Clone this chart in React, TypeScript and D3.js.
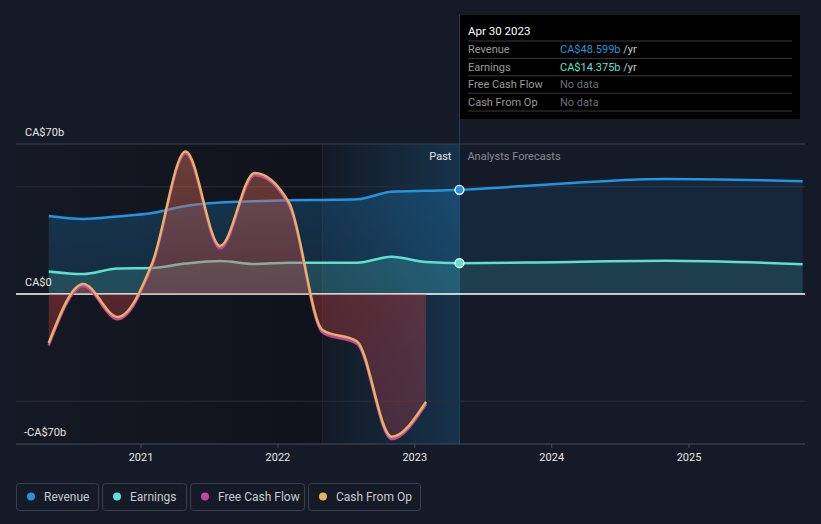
import React, { useEffect } from "react";
import * as d3 from "d3";

const W = 821;
const H = 524;

const pastDates = [
  "2020-04-30", "2020-07-31", "2020-10-31", "2021-01-31", "2021-04-30", "2021-07-31",
  "2021-10-31", "2022-01-31", "2022-04-30", "2022-07-31", "2022-10-31", "2023-01-31", "2023-04-30",
];
const revenuePast = [36.4, 35.0, 36.2, 37.8, 41.1, 42.7, 43.3, 43.7, 43.9, 44.2, 47.7, 48.2, 48.6];
const earningsPast = [10.5, 9.3, 11.9, 12.1, 14.2, 15.4, 14.0, 14.6, 14.6, 14.6, 17.4, 14.9, 14.4];

const cashDates = pastDates.slice(0, 12);
const cashFromOp = [-22.9, 4.7, -10.7, 14.5, 66.5, 22.4, 56.5, 42.5, -16.8, -22.2, -66.6, -50.3];
const freeCashFlow = [-24.0, 3.6, -11.8, 13.4, 65.4, 21.3, 55.4, 41.4, -17.9, -23.3, -67.7, -51.4];

const forecastDates = ["2023-04-30", "2023-10-31", "2024-10-31", "2025-10-31"];
const revenueForecast = [48.6, 50.5, 53.7, 52.6];
const earningsForecast = [14.4, 14.7, 15.5, 13.9];

const yTicks = [70, 0, -70];
const yTickLabels = ["CA$70b", "CA$0", "-CA$70b"];
const gridValues = [50, -50];
const xTickYears = [2021, 2022, 2023, 2024, 2025];

const legendItems = [
  { label: "Revenue", color: "#2394df" },
  { label: "Earnings", color: "#5fe0cf" },
  { label: "Free Cash Flow", color: "#c4479a" },
  { label: "Cash From Op", color: "#e6b065" },
];

const tooltipRows = [
  { label: "Revenue", value: "CA$48.599b", unit: " /yr", color: "#2394df" },
  { label: "Earnings", value: "CA$14.375b", unit: " /yr", color: "#5fe0cf" },
  { label: "Free Cash Flow", value: "No data", unit: "", color: "#6b6f76" },
  { label: "Cash From Op", value: "No data", unit: "", color: "#6b6f76" },
];

const parse = d3.utcParse("%Y-%m-%d");

export default function App() {
  useEffect(() => {
    document.body.style.margin = "0";
    document.body.style.background = "#151b26";
  }, []);

  const x = d3
    .scaleUtc()
    .domain([new Date(Date.UTC(2021, 0, 1)), new Date(Date.UTC(2025, 0, 1))])
    .range([141, 689]);
  const y = d3.scaleLinear().domain([-70, 70]).range([444, 144]);

  const left = 16;
  const right = 805;
  const nowX = x(parse("2023-04-30")!);
  const hlX = x(parse("2022-04-30")!);

  type P = { d: Date; v: number };
  const mk = (dates: string[], vals: number[]): P[] => dates.map((s, i) => ({ d: parse(s)!, v: vals[i] }));

  const revP = mk(pastDates, revenuePast);
  const revF = mk(forecastDates, revenueForecast);
  const earnP = mk(pastDates, earningsPast);
  const earnF = mk(forecastDates, earningsForecast);
  const revAll = revP.concat(revF.slice(1));
  const earnAll = earnP.concat(earnF.slice(1));
  const cfo = mk(cashDates, cashFromOp);
  const fcf = mk(cashDates, freeCashFlow);

  const line = d3
    .line<P>()
    .x((p) => x(p.d))
    .y((p) => y(p.v))
    .curve(d3.curveMonotoneX);
  const area = d3
    .area<P>()
    .x((p) => x(p.d))
    .y0(y(0))
    .y1((p) => y(p.v))
    .curve(d3.curveMonotoneX);

  const font = "Roboto, 'Open Sans', sans-serif";

  const legendX = [16, 102, 190, 308];
  const legendW = [82, 84, 114, 112];

  return (
    <svg
      width={W}
      height={H}
      style={{ position: "absolute", left: 0, top: 0, display: "block", background: "#151b26" }}
      fontFamily={font}
    >
      <defs>
        <linearGradient id="pastShade" x1="0" x2="1" y1="0" y2="0">
          <stop offset="0" stopColor="#000" stopOpacity={0.08} />
          <stop offset="1" stopColor="#000" stopOpacity={0.3} />
        </linearGradient>
        <linearGradient id="hl" x1="0" x2="1" y1="0" y2="0">
          <stop offset="0" stopColor="#2394df" stopOpacity={0.02} />
          <stop offset="1" stopColor="#2394df" stopOpacity={0.22} />
        </linearGradient>
        <linearGradient id="revFill" gradientUnits="userSpaceOnUse" x1="0" x2="0" y1={144} y2={294}>
          <stop offset="0" stopColor="#2394df" stopOpacity={0.28} />
          <stop offset="1" stopColor="#2394df" stopOpacity={0.16} />
        </linearGradient>
        <linearGradient id="cashFill" gradientUnits="userSpaceOnUse" x1="0" x2="0" y1={144} y2={444}>
          <stop offset="0" stopColor="rgb(228,125,95)" stopOpacity={0.42} />
          <stop offset="0.5" stopColor="rgb(205,65,65)" stopOpacity={0.36} />
          <stop offset="1" stopColor="rgb(190,60,85)" stopOpacity={0.3} />
        </linearGradient>
      </defs>

      {/* background regions */}
      <rect x={left} y={144} width={hlX - left} height={300} fill="url(#pastShade)" />
      <rect x={hlX} y={144} width={nowX - hlX} height={300} fill="#11161e" opacity={0.6} />
      <rect x={hlX} y={144} width={nowX - hlX} height={300} fill="url(#hl)" />
      <line x1={hlX} x2={hlX} y1={144} y2={444} stroke="#ffffff" strokeOpacity={0.06} />
      <line x1={nowX} x2={nowX} y1={15} y2={444} stroke="#2394df" strokeOpacity={0.3} />

      {/* grid */}
      <line x1={left} x2={right} y1={y(70)} y2={y(70)} stroke="#3c424c" />
      {gridValues.map((g) => (
        <line key={g} x1={left} x2={right} y1={y(g)} y2={y(g)} stroke="#2a303a" />
      ))}

      {/* revenue */}
      <path d={area(revP) || ""} fill="url(#revFill)" />
      <path d={area(revF) || ""} fill="#2394df" fillOpacity={0.1} />
      <path d={line(revAll) || ""} fill="none" stroke="#2394df" strokeWidth={2.5} />

      {/* earnings */}
      <path d={area(earnP) || ""} fill="#5fe0cf" fillOpacity={0.18} />
      <path d={area(earnF) || ""} fill="#5fe0cf" fillOpacity={0.13} />
      <path d={line(earnAll) || ""} fill="none" stroke="#5fe0cf" strokeWidth={2.5} />

      {/* zero line */}
      <line x1={left} x2={right} y1={y(0)} y2={y(0)} stroke="#ffffff" strokeWidth={1.5} />

      {/* cash flow */}
      <path d={area(fcf) || ""} fill="url(#cashFill)" />
      <path d={line(fcf) || ""} fill="none" stroke="#c4479a" strokeWidth={2.5} />
      <path d={line(cfo) || ""} fill="none" stroke="#e6b065" strokeWidth={2.5} />

      {/* now markers */}
      <circle cx={nowX} cy={y(revenuePast[revenuePast.length - 1])} r={4.5} fill="#2394df" stroke="#fff" strokeWidth={1.3} />
      <circle cx={nowX} cy={y(earningsPast[earningsPast.length - 1])} r={4.5} fill="#5fe0cf" stroke="#fff" strokeWidth={1.3} />

      {/* x axis */}
      <line x1={left} x2={right} y1={444} y2={444} stroke="#454b56" strokeWidth={1.2} />
      {xTickYears.map((yr) => {
        const xx = x(new Date(Date.UTC(yr, 0, 1)));
        return (
          <g key={yr}>
            <line x1={xx} x2={xx} y1={444} y2={448} stroke="#454b56" />
            <text x={xx} y={461} textAnchor="middle" fontSize={11} fill="#e6e6e6">
              {yr}
            </text>
          </g>
        );
      })}

      {/* y labels */}
      {yTicks.map((t, i) => (
        <text key={t} x={t < 0 ? 24 : 25} y={y(t) - 8} fontSize={11} fill="#e6e6e6">
          {yTickLabels[i]}
        </text>
      ))}

      {/* past / forecast */}
      <text x={nowX - 8} y={160} textAnchor="end" fontSize={11} fill="#e8e8e8">
        Past
      </text>
      <text x={nowX + 8} y={160} fontSize={11} fill="#858a93">
        Analysts Forecasts
      </text>

      {/* tooltip */}
      <rect x={460} y={15} width={340} height={104} fill="#000" />
      <text x={468} y={35} fontSize={11.5} fill="#ffffff">
        Apr 30 2023
      </text>
      {tooltipRows.map((r, i) => {
        const ty = 41 + i * 17.4;
        return (
          <g key={r.label}>
            <line x1={468} x2={792} y1={ty} y2={ty} stroke="#3a3a3a" />
            <text x={468} y={ty + 12.3} fontSize={11} fill="#9a9a9a">
              {r.label}
            </text>
            <text x={560} y={ty + 12.3} fontSize={11} fill={r.color}>
              {r.value}
              <tspan fill="#c8c8c8">{r.unit}</tspan>
            </text>
          </g>
        );
      })}
      <line x1={468} x2={792} y1={111} y2={111} stroke="#3a3a3a" />

      {/* legend */}
      {legendItems.map((it, i) => (
        <g key={it.label}>
          <rect x={legendX[i] + 0.5} y={483.5} width={legendW[i]} height={27} rx={3} fill="none" stroke="#3a404b" />
          <circle cx={legendX[i] + 15} cy={496.5} r={4} fill={it.color} />
          <text x={legendX[i] + 28} y={500.5} fontSize={12} fill="#c5c9d0">
            {it.label}
          </text>
        </g>
      ))}
    </svg>
  );
}
